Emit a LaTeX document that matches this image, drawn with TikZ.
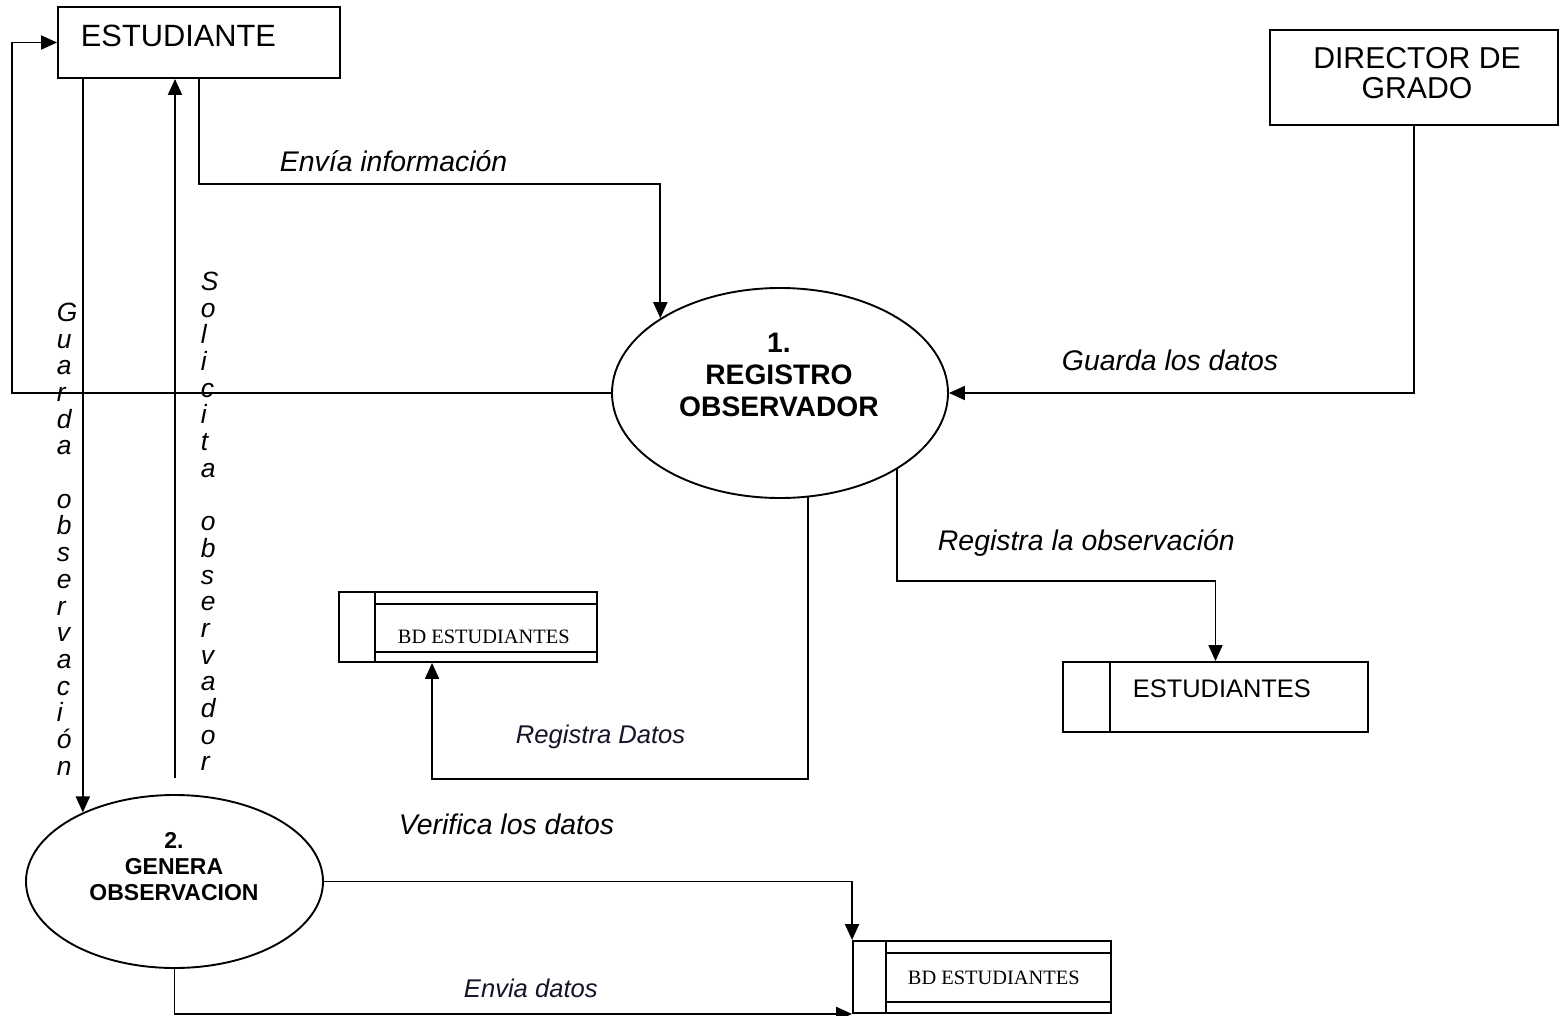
\documentclass[tikz,border=0pt]{standalone}
\usepackage{fontspec}
\setmainfont{Liberation Sans}
\newfontfamily\serifbd{Liberation Serif}
\usetikzlibrary{arrows.meta,shapes.geometric,calc}
\definecolor{navytext}{RGB}{20,20,40}
\begin{document}
\begin{tikzpicture}[x=0.5pt,y=-0.5pt, line width=0.95pt,
  arr/.style={-{Triangle[length=8pt,width=7pt]}},
  box/.style={draw, inner sep=0pt},
  proc/.style={draw, ellipse, inner sep=0pt},
  txt/.style={inner sep=0pt, anchor=base west},
  lab/.style={font=\fontsize{14.2}{17}\selectfont\itshape, inner sep=0pt, anchor=base west},
  lab2/.style={font=\fontsize{12.8}{15}\selectfont\itshape, text=navytext, inner sep=0pt, anchor=base west},
  vlab/.style={font=\fontsize{13.2}{13.35}\selectfont\itshape, align=left, inner sep=0pt, anchor=north west},
]
\useasboundingbox (0,0) rectangle (1559,1016);

% external entities
\node[box, minimum width=141pt, minimum height=35.5pt] (est) at (199,42.5) {};
\node[txt, font=\fontsize{15.4}{18}\selectfont] (estt) at (80,47) {ESTUDIANTE};
\node[box, minimum width=144pt, minimum height=47.5pt] (dir) at (1414,77.5) {};
\node[align=center, font=\fontsize{15.1}{15}\selectfont, inner sep=0pt] (dirt) at (1417,73.5) {DIRECTOR DE\\GRADO};

% processes
\node[proc, minimum width=168pt, minimum height=105pt] (e1) at (780,393) {};
\node[align=center, font=\fontsize{14.1}{16}\selectfont\bfseries, inner sep=0pt] (e1t) at (779,375) {1.\\REGISTRO\\OBSERVADOR};
\node[proc, minimum width=148.5pt, minimum height=86.5pt] (e2) at (174.5,881.5) {};
\node[align=center, font=\fontsize{11.5}{13}\selectfont\bfseries, inner sep=0pt] (e2t) at (174,867) {2.\\GENERA\\OBSERVACION};

% data stores
\node[box, minimum width=129pt, minimum height=35pt] (bd1) at (468,627) {};
\draw ($(bd1.north west)+(37,0)$) -- ($(bd1.south west)+(37,0)$);
\draw ($(bd1.north west)+(37,13)$) -- ($(bd1.north east)+(0,13)$);
\draw ($(bd1.south west)+(37,-11)$) -- ($(bd1.south east)+(0,-11)$);
\node[txt, font=\serifbd\fontsize{10.2}{12}\selectfont] (bd1t) at (397,643) {BD ESTUDIANTES};

\node[box, minimum width=152.5pt, minimum height=35pt] (st) at (1215.5,697) {};
\draw ($(st.north west)+(48,0)$) -- ($(st.south west)+(48,0)$);
\node[txt, font=\fontsize{12.7}{15}\selectfont] (stt) at (1132,697) {ESTUDIANTES};

\node[box, minimum width=129pt, minimum height=36pt] (bd2) at (982,977) {};
\draw ($(bd2.north west)+(34,0)$) -- ($(bd2.south west)+(34,0)$);
\draw ($(bd2.north west)+(34,13)$) -- ($(bd2.north east)+(0,13)$);
\draw ($(bd2.south west)+(34,-12)$) -- ($(bd2.south east)+(0,-12)$);
\node[txt, font=\serifbd\fontsize{10.2}{12}\selectfont] (bd2t) at (907,984) {BD ESTUDIANTES};

% labels
\node[lab] (l1) at (279,172) {Envía información};
\node[lab] (l2) at (1061,371) {Guarda los datos};
\node[lab] (l3) at (937,550) {Registra la observación};
\node[lab] (l4) at (398,834) {Verifica los datos};
\node[lab2] (l5) at (515,743) {Registra Datos};
\node[lab2] (l6) at (463,997) {Envia datos};

\node[vlab] (vg) at (56,302) {G\\u\\a\\r\\d\\a\\\mbox{}\\o\\b\\s\\e\\r\\v\\a\\c\\i\\ó\\n};
\node[vlab] (vs) at (200,271) {S\\o\\l\\i\\c\\i\\t\\a\\\mbox{}\\o\\b\\s\\e\\r\\v\\a\\d\\o\\r};

% connectors
\draw[arr] (e1.west) -- ++(-599,0) |- (est.west);
\draw[arr] (e2.143.3 |- est.south) -- (e2.143.3);
\coordinate (s0) at (175,778);
\draw[arr] (s0) -- (s0 |- est.south);
\draw[arr] ($(est.south west)+(142,0)$) -- ++(0,105) -| (e1.148.1);
\draw[arr] (dir.south) |- (e1.east);
\draw[arr] (e1.327.7) -- ++(0,112) -| (st.north);
\draw[arr] (e1.285.1) |- ($(bd1.south west)+(94,116)$) -- ($(bd1.south west)+(94,0)$);
\draw[arr] (e2.east) -| (bd2.north west);
\draw[arr] (e2.south) |- (bd2.south west);
\end{tikzpicture}
\end{document}
